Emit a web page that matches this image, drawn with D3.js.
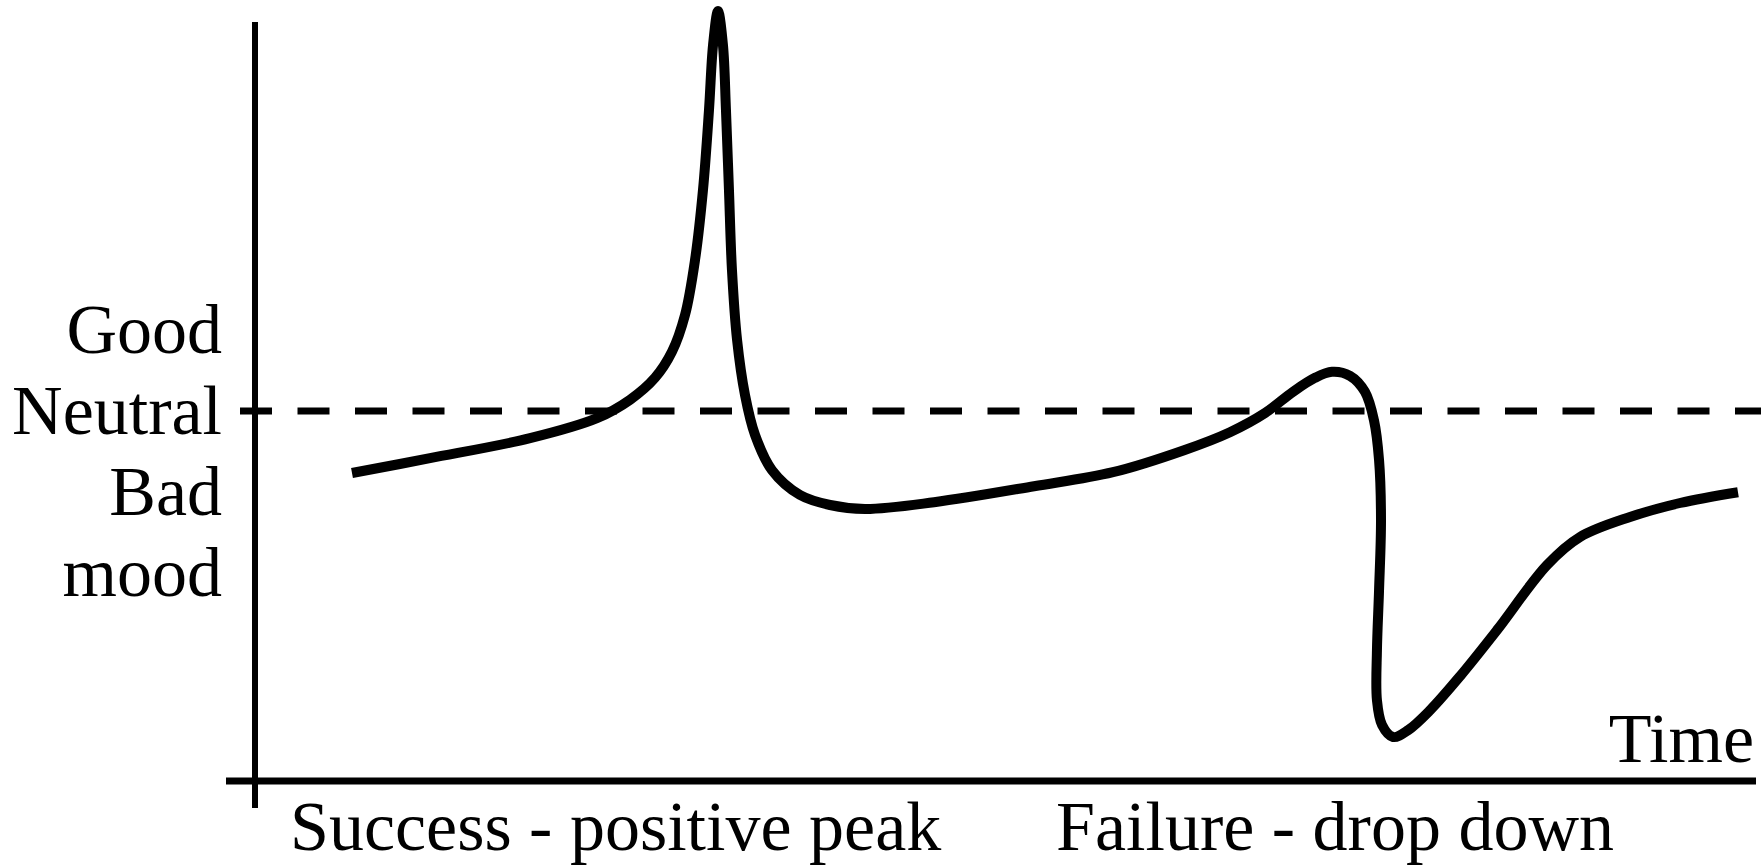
<!DOCTYPE html>
<html>
<head>
<meta charset="utf-8">
<script src="https://cdn.jsdelivr.net/npm/d3@7"></script>
<style>
  html, body { margin: 0; padding: 0; background: #fff; }
  svg { display: block; }
  text { font-family: "Liberation Serif", "DejaVu Serif", serif; fill: #000; }
</style>
</head>
<body>
<svg id="chart" width="1761" height="866"></svg>
<script>
// ---- data (time 0..100, mood: 0 = neutral) ----
const time = [6.40, 11.60, 18.27, 22.73, 24.93, 26.60, 27.73, 28.60, 29.27, 29.80, 30.20,
  30.47, 30.80, 31.13, 31.33, 31.53, 31.73, 32.07, 32.60, 33.27, 34.40, 36.27, 38.27,
  40.60, 45.20, 51.87, 57.13, 61.87, 64.93, 67.27, 69.13, 70.60, 71.73, 72.93, 73.93,
  74.53, 74.87, 75.00, 74.87, 74.73, 74.73, 75.07, 75.80, 76.80, 78.27, 80.27, 82.73,
  86.07, 88.27, 91.60, 94.93, 98.80];
const mood = [-1.55, -1.18, -0.68, -0.18, 0.28, 0.83, 1.48, 2.40, 3.78, 5.53, 7.53,
  9.15, 10.00, 9.15, 7.53, 5.53, 3.53, 1.78, 0.40, -0.60, -1.48, -2.10, -2.35,
  -2.45, -2.28, -1.88, -1.53, -0.98, -0.53, -0.05, 0.48, 0.83, 0.98, 0.88, 0.48,
  -0.23, -1.23, -2.73, -4.48, -5.98, -7.23, -7.85, -8.15, -7.98, -7.48, -6.63, -5.48,
  -3.85, -3.15, -2.65, -2.30, -2.03];
const neutralLevel = 0;
const yLabels = ["Good", "Neutral", "Bad", "mood"];
const xLabels = ["Success - positive peak", "Failure - drop down"];
const xAxisTitle = "Time";

// ---- layout ----
const svg = d3.select("#chart");
const x = d3.scaleLinear().domain([0, 100]).range([256, 1756]);
const y = d3.scaleLinear().domain([-10, 10]).range([811, 11]);
const fontSize = 70;

// axes
svg.append("line")
  .attr("x1", 255).attr("x2", 255).attr("y1", 22).attr("y2", 808)
  .attr("stroke", "#000").attr("stroke-width", 6);
svg.append("line")
  .attr("x1", 226).attr("x2", 1756).attr("y1", 781).attr("y2", 781)
  .attr("stroke", "#000").attr("stroke-width", 7);

// neutral dashed line
svg.append("line")
  .attr("x1", 240).attr("x2", 1761)
  .attr("y1", y(neutralLevel)).attr("y2", y(neutralLevel))
  .attr("stroke", "#000").attr("stroke-width", 7)
  .attr("stroke-dasharray", "32 25.5");

// mood curve
const pts = time.map((t, i) => [t, mood[i]]);
const line = d3.line()
  .x(d => x(d[0])).y(d => y(d[1]))
  .curve(d3.curveCatmullRom.alpha(0.5));
svg.append("path")
  .datum(pts)
  .attr("d", line)
  .attr("fill", "none")
  .attr("stroke", "#000")
  .attr("stroke-width", 10)
  .attr("stroke-linejoin", "round")
  .attr("stroke-linecap", "butt");

// y labels
const neutralIdx = yLabels.indexOf("Neutral");
svg.append("g").selectAll("text")
  .data(yLabels)
  .join("text")
  .attr("x", 222)
  .attr("y", (d, i) => y(neutralLevel) + 23 + (i - neutralIdx) * 81)
  .attr("text-anchor", "end")
  .attr("font-size", fontSize)
  .text(d => d);

// x labels
const xLabelPos = [290, 1056];
svg.append("g").selectAll("text")
  .data(xLabels)
  .join("text")
  .attr("x", (d, i) => xLabelPos[i])
  .attr("y", 850)
  .attr("font-size", fontSize)
  .text(d => d);

svg.append("text")
  .attr("x", 1754).attr("y", 762)
  .attr("text-anchor", "end")
  .attr("font-size", fontSize)
  .text(xAxisTitle);
</script>
</body>
</html>
